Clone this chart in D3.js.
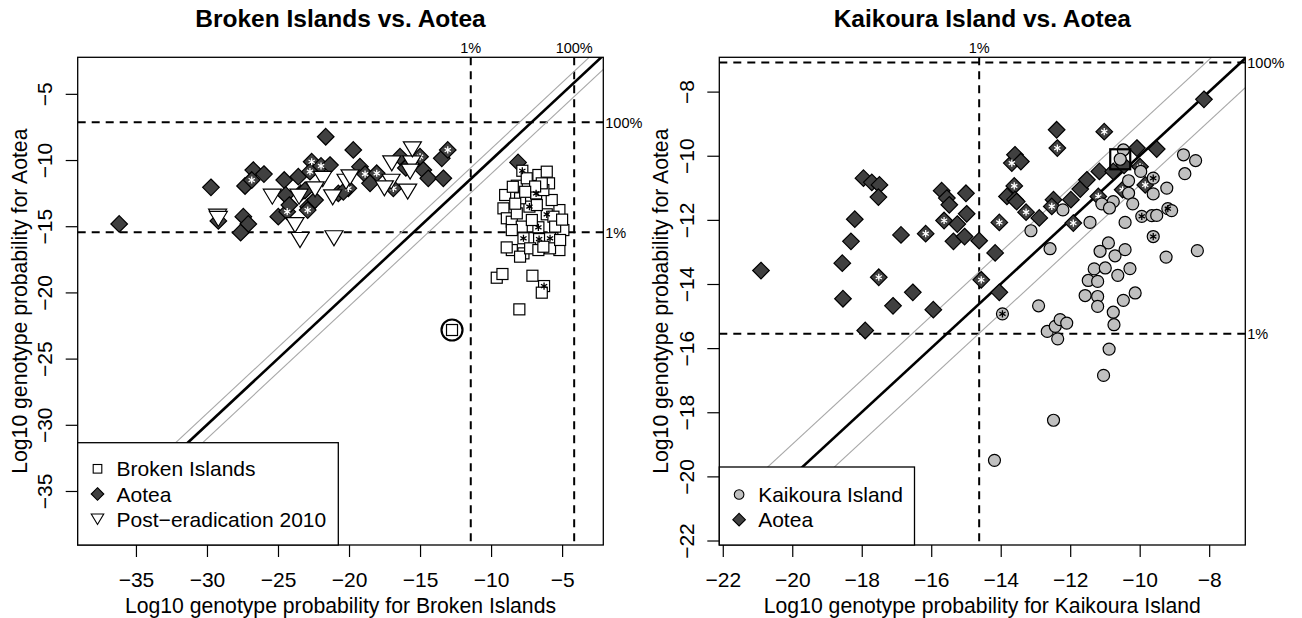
<!DOCTYPE html>
<html>
<head>
<meta charset="utf-8">
<script src="https://cdn.jsdelivr.net/npm/d3@7"></script>
<style>
  body { margin: 0; background: #fff; }
  text { font-family: "Liberation Sans", Arial, sans-serif; fill: #000; }
</style>
</head>
<body>
<svg id="chart" width="1302" height="618"></svg>
<script>
// Genotype assignment plots: Broken Islands / Kaikoura vs. Aotea

// [log10 prob source, log10 prob Aotea, asterisk flag]
const brokenIslands = [
  [-7.8, -10.81, 1], [-6.67, -11.13, 0], [-5.92, -11.76, 0], [-8.19, -11.94, 0], [-7.49, -11.38, 0],
  [-6.83, -12.52, 1], [-7.3, -13.52, 1], [-6.08, -14.1, 1], [-6.67, -15.08, 1], [-7.72, -15.91, 1],
  [-6.62, -15.97, 1], [-5.85, -15.91, 1], [-6.27, -19.52, 1], [-8.01, -21.28, 0], [-9.6, -18.89, 0],
  [-9.2, -18.61, 0], [-7.09, -18.74, 0], [-6.43, -20.02, 0], [-9.13, -13.65, 0], [-8.89, -14.4, 0],
  [-8.54, -14.66, 0], [-8.54, -16.8, 0], [-7.72, -17.05, 0], [-7.96, -17.3, 0], [-5.19, -16.8, 0],
  [-4.91, -15.29, 0], [-5.19, -13.78, 0], [-5.73, -13.02, 0], [-6.32, -12.27, 0], [-7.96, -12.89, 0],
  [-7.84, -15.03, 0], [-7.13, -14.53, 0], [-5.85, -16.67, 0], [-7.25, -16.67, 0], [-8.54, -15.29, 0],
  [-6.43, -11.76, 0], [-6.08, -10.88, 0], [-6.78, -13.4, 0], [-5.61, -14.28, 0], [-8.19, -14.03, 0],
  [-5.14, -16.04, 0], [-6.67, -16.8, 0], [-9.01, -12.64, 0], [-8.47, -12.02, 0], [-5.49, -15.03, 0],
  [-6.32, -16.55, 0], [-8.9, -16.6, 0], [-5.0, -14.5, 0], [-6.9, -12.0, 0], [-7.6, -12.4, 0],
  [-8.3, -13.3, 0], [-12.75, -22.84, 0]
];
const aoteaLeft = [
  [-36.18, -14.83, 0], [-29.72, -12.06, 0], [-29.2, -14.6, 0], [-27.44, -14.28, 0], [-27.09, -14.83, 0],
  [-27.63, -15.49, 0], [-26.74, -10.76, 0], [-25.99, -11.06, 0], [-27.32, -11.96, 0], [-26.85, -11.51, 1],
  [-24.56, -11.51, 0], [-24.98, -14.28, 0], [-24.35, -13.9, 1], [-24.46, -12.64, 0], [-23.57, -11.26, 0],
  [-22.87, -13.52, 0], [-22.91, -13.78, 1], [-22.63, -10.13, 1], [-21.97, -10.45, 1], [-22.75, -10.88, 1],
  [-21.64, -8.24, 0], [-21.34, -10.38, 0], [-23.4, -12.5, 1], [-22.39, -13.02, 0], [-20.75, -12.52, 0],
  [-20.05, -12.14, 1], [-19.7, -9.24, 0], [-19.23, -10.5, 0], [-18.87, -11.06, 1], [-18.05, -11.0, 1],
  [-18.52, -11.76, 0], [-16.88, -12.14, 1], [-16.41, -9.75, 0], [-15.0, -9.75, 1], [-14.77, -10.76, 0],
  [-14.42, -11.38, 0], [-13.36, -11.38, 0], [-13.47, -9.87, 0], [-13.05, -9.24, 1], [-8.1, -10.18, 0],
  [-20.4, -12.4, 0], [-23.1, -12.3, 0], [-24.2, -13.4, 0], [-16.0, -10.6, 0]
];
const postEradication = [
  [-29.25, -14.28], [-29.2, -14.45], [-25.4, -12.77], [-23.52, -12.77], [-21.85, -11.43],
  [-22.39, -12.22], [-21.15, -12.82], [-23.8, -14.91], [-23.45, -16.04], [-21.06, -15.91],
  [-20.21, -11.64], [-19.93, -11.31], [-16.99, -10.25], [-17.04, -11.64], [-15.58, -10.25],
  [-15.54, -9.19], [-15.87, -12.39], [-15.7, -10.88], [-17.51, -12.14]
];
const kaikoura = [
  [-10.47, -9.82, 0], [-10.56, -10.11, 0], [-8.74, -9.97, 0], [-8.39, -10.15, 0], [-8.7, -10.56, 0],
  [-9.97, -10.49, 0], [-10.32, -10.78, 0], [-9.61, -10.7, 1], [-9.22, -11.01, 0], [-9.61, -11.19, 0],
  [-10.32, -11.17, 0], [-10.76, -11.43, 0], [-11.09, -11.5, 0], [-10.87, -11.63, 0], [-10.2, -11.5, 0],
  [-12.21, -11.69, 0], [-13.13, -12.34, 0], [-11.43, -12.08, 0], [-10.42, -12.08, 0], [-9.94, -11.89, 1],
  [-9.65, -11.87, 0], [-9.51, -11.86, 0], [-9.19, -11.65, 1], [-9.08, -11.71, 0], [-9.61, -12.52, 1],
  [-12.58, -12.9, 0], [-10.9, -12.72, 0], [-11.14, -12.98, 0], [-10.71, -13.12, 0], [-10.42, -12.93, 0],
  [-9.24, -13.16, 0], [-8.34, -12.96, 0], [-11.31, -13.53, 0], [-10.99, -13.5, 0], [-10.63, -13.73, 0],
  [-10.28, -13.52, 0], [-11.48, -13.89, 0], [-11.21, -13.92, 0], [-11.57, -14.36, 0], [-11.21, -14.39, 0],
  [-10.47, -14.51, 0], [-10.13, -14.28, 0], [-12.91, -14.68, 0], [-11.21, -14.7, 0], [-10.76, -14.88, 0],
  [-13.95, -14.93, 1], [-12.66, -15.48, 0], [-12.43, -15.32, 0], [-12.29, -15.11, 0], [-12.1, -15.22, 0],
  [-12.36, -15.71, 0], [-10.88, -16.03, 0], [-11.04, -16.85, 0], [-12.48, -18.25, 0], [-14.18, -19.5, 0],
  [-10.74, -15.27, 0]
];
const aoteaRight = [
  [-20.9, -13.58, 0], [-17.95, -10.7, 0], [-17.71, -10.83, 0], [-17.49, -10.91, 0], [-17.52, -11.29, 0],
  [-18.2, -11.98, 0], [-18.31, -12.67, 0], [-18.56, -13.35, 0], [-18.54, -14.46, 0], [-17.51, -13.79, 1],
  [-17.9, -15.45, 0], [-17.1, -14.68, 0], [-16.53, -14.26, 0], [-15.94, -14.8, 0], [-16.87, -12.47, 0],
  [-16.16, -12.43, 1], [-15.7, -11.09, 0], [-15.55, -11.32, 0], [-15.48, -11.53, 0], [-15.0, -11.17, 0],
  [-14.98, -11.81, 0], [-15.25, -12.13, 0], [-15.63, -12.02, 1], [-15.36, -12.67, 0], [-15.04, -12.52, 0],
  [-14.62, -12.65, 0], [-14.16, -13.03, 0], [-14.04, -12.08, 1], [-14.56, -13.87, 1], [-14.04, -14.26, 0],
  [-13.68, -10.23, 1], [-13.61, -10.94, 1], [-13.82, -11.27, 0], [-13.59, -11.37, 0], [-13.59, -9.97, 0],
  [-13.42, -10.18, 0], [-8.15, -8.24, 0], [-12.39, -9.19, 0], [-12.37, -9.76, 1], [-11.02, -9.25, 1],
  [-10.08, -9.76, 0], [-9.51, -9.79, 0], [-13.54, -11.43, 0], [-13.27, -11.76, 1], [-12.89, -11.94, 0],
  [-12.48, -11.37, 0], [-12.53, -11.58, 1], [-11.98, -11.37, 0], [-11.71, -11.04, 0], [-11.52, -10.75, 0],
  [-11.16, -10.49, 0], [-11.19, -11.27, 1], [-11.91, -12.1, 1], [-10.76, -10.49, 0], [-10.49, -11.06, 1],
  [-9.99, -10.34, 1], [-9.84, -10.91, 1], [-10.45, -10.3, 0]
];

const leftTicks = [-35, -30, -25, -20, -15, -10, -5];
const rightTicks = [-22, -20, -18, -16, -14, -12, -10, -8];

const leftVLines = [-11.43, -4.15], leftVLabels = ["1%", "100%"];
const leftHLines = [-7.15, -15.46], leftHLabels = ["100%", "1%"];
const rightVLines = [-14.62], rightVLabels = ["1%"];
const rightHLines = [-7.09, -15.55], rightHLabels = ["100%", "1%"];
const leftBand = [0.85, -1.05];
const rightBand = [1.0, -0.92];
const leftHighlight = [-12.75, -22.84];
const rightHighlight = [-10.56, -10.11];

const svg = d3.select("#chart");
const plotTop = 57.3, plotBottom = 545;
const DIAMOND_FILL = "#404040", CIRCLE_FILL = "#c0c0c0";
const LABEL_SIZE = "21px";

function diamond(h) { return `M0,${-h}L${h},0L0,${h}L${-h},0Z`; }
function triangle(w, h) { return `M${-w / 2},${-h / 2}L${w / 2},${-h / 2}L0,${h / 2}Z`; }
function asterisk(r) {
  let d = "";
  [90, 30, 150].forEach(a => {
    const c = Math.cos(a * Math.PI / 180) * r, s = Math.sin(a * Math.PI / 180) * r;
    d += `M${c},${-s}L${-c},${s}`;
  });
  return d;
}

function drawPanel(p) {
  const x = d3.scaleLinear().domain(p.xDomain).range([p.left, p.right]);
  const y = d3.scaleLinear().domain(p.yDomain).range([plotBottom, plotTop]);
  const g = svg.append("g");
  const clipId = "clip" + p.id;
  svg.append("clipPath").attr("id", clipId).append("rect")
    .attr("x", p.left).attr("y", plotTop).attr("width", p.right - p.left).attr("height", plotBottom - plotTop);
  const lines = g.append("g").attr("clip-path", `url(#${clipId})`);

  // threshold lines
  p.vLines.forEach((v, i) => {
    lines.append("line").attr("x1", x(v)).attr("x2", x(v)).attr("y1", plotTop).attr("y2", plotBottom)
      .attr("stroke", "#000").attr("stroke-width", 2).attr("stroke-dasharray", "8,6");
    g.append("text").attr("x", x(v)).attr("y", 52.5).attr("text-anchor", "middle")
      .attr("font-size", "14.5px").text(p.vLabels[i]);
  });
  p.hLines.forEach((v, i) => {
    lines.append("line").attr("x1", p.left).attr("x2", p.right).attr("y1", y(v)).attr("y2", y(v))
      .attr("stroke", "#000").attr("stroke-width", 2).attr("stroke-dasharray", "8,6");
    g.append("text").attr("x", p.right + 2).attr("y", y(v)).attr("dy", "0.36em")
      .attr("font-size", "14.5px").text(p.hLabels[i]);
  });

  // y = x and band
  const lo = Math.min(p.xDomain[0], p.yDomain[0]) - 3, hi = Math.max(p.xDomain[1], p.yDomain[1]) + 3;
  p.band.forEach(o => {
    lines.append("line").attr("x1", x(lo)).attr("y1", y(lo + o)).attr("x2", x(hi)).attr("y2", y(hi + o))
      .attr("stroke", "#a8a8a8").attr("stroke-width", 1.1);
  });
  lines.append("line").attr("x1", x(lo)).attr("y1", y(lo)).attr("x2", x(hi)).attr("y2", y(hi))
    .attr("stroke", "#000").attr("stroke-width", 2.6);

  // points
  p.layers.forEach(layer => {
    const lg = g.append("g");
    layer.data.forEach(d => {
      const px = x(d[0]), py = y(d[1]);
      if (layer.shape === "square") {
        lg.append("rect").attr("x", px - 5.5).attr("y", py - 5.5).attr("width", 11).attr("height", 11)
          .attr("fill", "#fff").attr("stroke", "#000").attr("stroke-width", 1.2);
      } else if (layer.shape === "diamond") {
        lg.append("path").attr("d", diamond(8.3)).attr("transform", `translate(${px},${py})`)
          .attr("fill", DIAMOND_FILL).attr("stroke", "#000").attr("stroke-width", 1.2);
      } else if (layer.shape === "triangle") {
        lg.append("path").attr("d", triangle(18, 15)).attr("transform", `translate(${px},${py})`)
          .attr("fill", "#fff").attr("stroke", "#000").attr("stroke-width", 1.2);
      } else {
        lg.append("circle").attr("cx", px).attr("cy", py).attr("r", 6)
          .attr("fill", CIRCLE_FILL).attr("stroke", "#000").attr("stroke-width", 1.2);
      }
    });
    layer.data.filter(d => d[2]).forEach(d => {
      lg.append("path").attr("d", asterisk(3.6)).attr("transform", `translate(${x(d[0])},${y(d[1])})`)
        .attr("stroke", layer.shape === "diamond" ? "#fff" : "#000").attr("stroke-width", 1.3);
    });
  });

  // highlight
  if (p.highlightShape === "circle") {
    g.append("circle").attr("cx", x(p.highlight[0])).attr("cy", y(p.highlight[1])).attr("r", 10.5)
      .attr("fill", "none").attr("stroke", "#000").attr("stroke-width", 2.2);
  } else {
    g.append("rect").attr("x", x(p.highlight[0]) - 10).attr("y", y(p.highlight[1]) - 10)
      .attr("width", 20).attr("height", 20)
      .attr("fill", "none").attr("stroke", "#000").attr("stroke-width", 2.2);
  }

  // axes
  const xAxis = g.append("g").attr("transform", `translate(0,${plotBottom})`)
    .call(d3.axisBottom(x).tickValues(p.ticks).tickSize(12).tickSizeOuter(0).tickFormat(d3.format("")));
  xAxis.select(".domain").remove();
  xAxis.selectAll(".tick line").attr("stroke-width", 1.2);
  xAxis.selectAll(".tick text").attr("font-size", LABEL_SIZE).attr("y", 41.7).attr("dy", null)
    .attr("font-family", "Liberation Sans, Arial, sans-serif");

  const yAxis = g.append("g").attr("transform", `translate(${p.left},0)`)
    .call(d3.axisLeft(y).tickValues(p.ticks).tickSize(12).tickSizeOuter(0).tickFormat(d3.format("")));
  yAxis.select(".domain").remove();
  yAxis.selectAll(".tick line").attr("stroke-width", 1.2);
  yAxis.selectAll(".tick text").attr("font-size", LABEL_SIZE)
    .attr("font-family", "Liberation Sans, Arial, sans-serif")
    .attr("x", null).attr("dy", null).attr("text-anchor", "middle")
    .attr("transform", `translate(${-25.2},0) rotate(-90)`);

  // box
  g.append("rect").attr("x", p.left).attr("y", plotTop).attr("width", p.right - p.left).attr("height", plotBottom - plotTop)
    .attr("fill", "none").attr("stroke", "#000").attr("stroke-width", 1.3);

  // legend
  const leg = g.append("g");
  leg.append("rect").attr("x", p.left).attr("y", p.legendTop).attr("width", p.legendWidth)
    .attr("height", plotBottom - p.legendTop)
    .attr("fill", "#fff").attr("stroke", "#000").attr("stroke-width", 1.3);
  p.legend.forEach((item, i) => {
    const ly = p.legendFirst + i * 25.2, lx = p.left + 19.8;
    if (item.shape === "square") {
      leg.append("rect").attr("x", lx - 4.3).attr("y", ly - 4.3).attr("width", 8.6).attr("height", 8.6)
        .attr("fill", "#fff").attr("stroke", "#000").attr("stroke-width", 1.1);
    } else if (item.shape === "diamond") {
      leg.append("path").attr("d", diamond(6.3)).attr("transform", `translate(${lx},${ly})`)
        .attr("fill", DIAMOND_FILL).attr("stroke", "#000").attr("stroke-width", 1.1);
    } else if (item.shape === "triangle") {
      leg.append("path").attr("d", triangle(12.5, 10.5)).attr("transform", `translate(${lx},${ly})`)
        .attr("fill", "#fff").attr("stroke", "#000").attr("stroke-width", 1.1);
    } else {
      leg.append("circle").attr("cx", lx).attr("cy", ly).attr("r", 4.8)
        .attr("fill", CIRCLE_FILL).attr("stroke", "#000").attr("stroke-width", 1.1);
    }
    leg.append("text").attr("x", p.left + 38.9).attr("y", ly).attr("dy", "0.36em")
      .attr("font-size", LABEL_SIZE).text(item.label);
  });

  // titles
  const cx = (p.left + p.right) / 2;
  svg.append("text").attr("x", cx).attr("y", 27.3).attr("text-anchor", "middle")
    .attr("font-size", "24.5px").attr("font-weight", "bold").text(p.title);
  svg.append("text").attr("x", cx).attr("y", 612.5).attr("text-anchor", "middle")
    .attr("font-size", "21.2px").text(p.xLabel);
  svg.append("text").attr("transform", `translate(${p.left - 51.2},${(plotTop + plotBottom) / 2}) rotate(-90)`)
    .attr("text-anchor", "middle").attr("font-size", "21.2px").text(p.yLabel);
}

drawPanel({
  id: "L", left: 77.7, right: 603.3, xDomain: [-39.1, -2.1], yDomain: [-39.08, -2.24],
  ticks: leftTicks, vLines: leftVLines, vLabels: leftVLabels, hLines: leftHLines, hLabels: leftHLabels,
  band: leftBand, highlight: leftHighlight, highlightShape: "circle",
  layers: [
    { shape: "diamond", data: aoteaLeft },
    { shape: "square", data: brokenIslands },
    { shape: "triangle", data: postEradication }
  ],
  legendWidth: 260.6, legendTop: 442.7, legendFirst: 468.8,
  legend: [
    { shape: "square", label: "Broken Islands" },
    { shape: "diamond", label: "Aotea" },
    { shape: "triangle", label: "Post\u2212eradication 2010" }
  ],
  title: "Broken Islands vs. Aotea",
  xLabel: "Log10 genotype probability for Broken Islands",
  yLabel: "Log10 genotype probability for Aotea"
});

drawPanel({
  id: "R", left: 719.3, right: 1245.3, xDomain: [-22.1, -6.96], yDomain: [-22.14, -6.93],
  ticks: rightTicks, vLines: rightVLines, vLabels: rightVLabels, hLines: rightHLines, hLabels: rightHLabels,
  band: rightBand, highlight: rightHighlight, highlightShape: "square",
  layers: [
    { shape: "diamond", data: aoteaRight },
    { shape: "circle", data: kaikoura }
  ],
  legendWidth: 195.2, legendTop: 467, legendFirst: 494.5,
  legend: [
    { shape: "circle", label: "Kaikoura Island" },
    { shape: "diamond", label: "Aotea" }
  ],
  title: "Kaikoura Island vs. Aotea",
  xLabel: "Log10 genotype probability for Kaikoura Island",
  yLabel: "Log10 genotype probability for Aotea"
});
</script>
</body>
</html>
